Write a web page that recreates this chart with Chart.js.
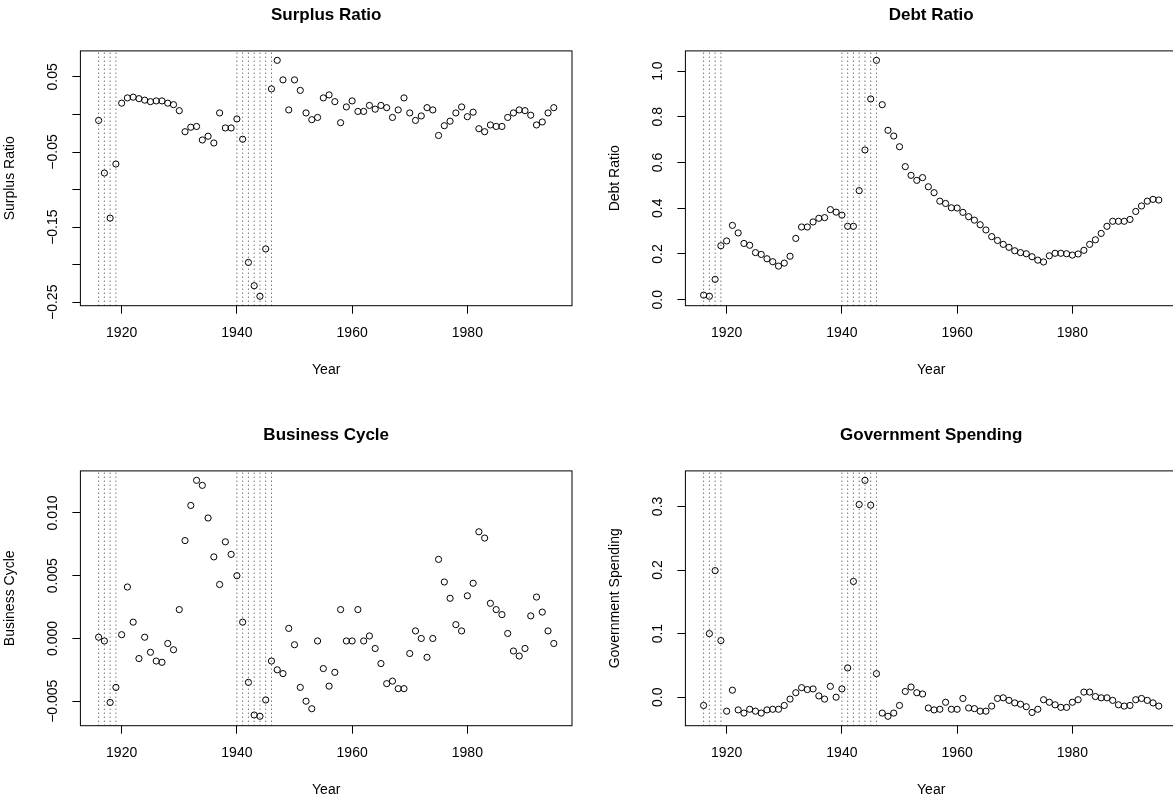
<!DOCTYPE html>
<html>
<head>
<meta charset="utf-8">
<script src="https://cdn.jsdelivr.net/npm/chart.js@4.4.1/dist/chart.umd.min.js"></script>
<style>
  html, body { margin: 0; padding: 0; background: #fff; overflow: hidden; width: 1173px; height: 801px; }
  canvas { position: absolute; }
</style>
</head>
<body>
<canvas id="surplus" width="605" height="400" style="left:0;top:0"></canvas>
<canvas id="debt" width="605" height="400" style="left:605px;top:0"></canvas>
<canvas id="cycle" width="605" height="400" style="left:0;top:420px"></canvas>
<canvas id="spending" width="605" height="400" style="left:605px;top:420px"></canvas>
<script>
// -----------------------------
// Data (1916 - 1995)
// -----------------------------
const years = Array.from({ length: 80 }, (_, i) => 1916 + i);
const warYears = [1916, 1917, 1918, 1919, 1940, 1941, 1942, 1943, 1944, 1945, 1946];
const yearTicks = [1920, 1940, 1960, 1980];

const surplus = [
  -0.008, -0.078, -0.138, -0.066, 0.015, 0.022, 0.023, 0.021, 0.019, 0.017,
  0.018, 0.018, 0.015, 0.013, 0.005, -0.023, -0.017, -0.016, -0.034, -0.029,
  -0.038, 0.002, -0.018, -0.018, -0.006, -0.033, -0.197, -0.228, -0.242, -0.179,
  0.034, 0.072, 0.046, 0.006, 0.046, 0.032, 0.002, -0.007, -0.004, 0.022,
  0.026, 0.017, -0.011, 0.010, 0.018, 0.004, 0.004, 0.012, 0.007, 0.012,
  0.009, -0.004, 0.006, 0.022, 0.002, -0.008, -0.002, 0.009, 0.006, -0.028,
  -0.015, -0.009, 0.002, 0.010, -0.003, 0.003, -0.019, -0.023, -0.014, -0.016,
  -0.016, -0.004, 0.002, 0.006, 0.005, -0.001, -0.014, -0.010, 0.002, 0.009
];
const debt = [
  0.020, 0.015, 0.089, 0.236, 0.257, 0.325, 0.292, 0.246, 0.238, 0.206,
  0.198, 0.179, 0.166, 0.147, 0.160, 0.190, 0.268, 0.318, 0.318, 0.340,
  0.356, 0.359, 0.394, 0.383, 0.370, 0.321, 0.321, 0.477, 0.655, 0.878,
  1.047, 0.853, 0.741, 0.716, 0.669, 0.582, 0.544, 0.522, 0.534, 0.494,
  0.468, 0.431, 0.421, 0.402, 0.401, 0.382, 0.363, 0.348, 0.328, 0.305,
  0.276, 0.259, 0.242, 0.229, 0.214, 0.206, 0.201, 0.188, 0.173, 0.165,
  0.192, 0.203, 0.203, 0.201, 0.195, 0.200, 0.216, 0.242, 0.262, 0.290,
  0.321, 0.343, 0.343, 0.343, 0.351, 0.386, 0.410, 0.431, 0.439, 0.436
];
const cycle = [
  0.0001, -0.0002, -0.0051, -0.0039, 0.0003, 0.0041, 0.0013, -0.0016, 0.0001, -0.0011,
  -0.0018, -0.0019, -0.0004, -0.0009, 0.0023, 0.0078, 0.0106, 0.0126, 0.0122, 0.0096,
  0.0065, 0.0043, 0.0077, 0.0067, 0.0050, 0.0013, -0.0035, -0.0061, -0.0062, -0.0049,
  -0.0018, -0.0025, -0.0028, 0.0008, -0.0005, -0.0039, -0.0050, -0.0056, -0.0002, -0.0024,
  -0.0038, -0.0027, 0.0023, -0.0002, -0.0002, 0.0023, -0.0002, 0.0002, -0.0008, -0.0020,
  -0.0036, -0.0034, -0.0040, -0.0040, -0.0012, 0.0006, 0.0000, -0.0015, 0.0000, 0.0063,
  0.0045, 0.0032, 0.0011, 0.0006, 0.0034, 0.0044, 0.0085, 0.0080, 0.0028, 0.0023,
  0.0019, 0.0004, -0.0010, -0.0014, -0.0008, 0.0018, 0.0033, 0.0021, 0.0006, -0.0004
];
const spending = [
  -0.013, 0.100, 0.199, 0.089, -0.022, 0.011, -0.020, -0.025, -0.019, -0.022,
  -0.025, -0.020, -0.019, -0.019, -0.013, -0.003, 0.007, 0.015, 0.012, 0.013,
  0.002, -0.003, 0.017, 0.000, 0.013, 0.046, 0.182, 0.303, 0.341, 0.302,
  0.037, -0.025, -0.030, -0.025, -0.013, 0.009, 0.016, 0.007, 0.005, -0.017,
  -0.020, -0.019, -0.008, -0.019, -0.019, -0.002, -0.017, -0.018, -0.022, -0.022,
  -0.014, -0.002, -0.001, -0.005, -0.009, -0.011, -0.015, -0.024, -0.019, -0.004,
  -0.008, -0.012, -0.016, -0.016, -0.008, -0.004, 0.008, 0.008, 0.001, -0.001,
  -0.001, -0.005, -0.012, -0.014, -0.013, -0.004, -0.002, -0.005, -0.009, -0.014
];

// y tick values and their printed labels (R drops some labels)
const surplusTicks = [-0.25, -0.2, -0.15, -0.1, -0.05, 0, 0.05];
const surplusLabels = ["\u22120.25", "", "\u22120.15", "", "\u22120.05", "", "0.05"];
const debtTicks = [0, 0.2, 0.4, 0.6, 0.8, 1.0];
const debtLabels = ["0.0", "0.2", "0.4", "0.6", "0.8", "1.0"];
const cycleTicks = [-0.005, 0, 0.005, 0.01];
const cycleLabels = ["\u22120.005", "0.000", "0.005", "0.010"];
const spendingTicks = [0, 0.1, 0.2, 0.3];
const spendingLabels = ["0.0", "0.1", "0.2", "0.3"];

// -----------------------------
// Shared setup
// -----------------------------
const FONT = "'Liberation Sans', Arial, Helvetica, sans-serif";
Chart.defaults.font.family = FONT;
Chart.defaults.color = "#000";

// R style box around the plot region
const boxPlugin = {
  id: "box",
  afterDraw(chart) {
    const { ctx, chartArea: a } = chart;
    ctx.save();
    ctx.strokeStyle = "#000";
    ctx.lineWidth = 1;
    ctx.strokeRect(a.left, a.top, a.right - a.left, a.bottom - a.top);
    ctx.restore();
  }
};

const measure = document.createElement("canvas").getContext("2d");
measure.font = "14px " + FONT;

function panel(id, title, yTitle, values, yTicks, yLabels) {
  // R pads the data range by 4% on each side
  const lo = Math.min(...values), hi = Math.max(...values);
  const yMin = lo - (hi - lo) * 0.04, yMax = hi + (hi - lo) * 0.04;
  const span = years[years.length - 1] - years[0];
  const xMin = years[0] - span * 0.04, xMax = years[years.length - 1] + span * 0.04;

  const widest = Math.max(...yLabels.map(s => measure.measureText(s).width));

  const datasets = [{
    data: years.map((x, i) => ({ x, y: values[i] })),
    pointStyle: "circle",
    pointRadius: 3.1,
    pointHoverRadius: 3.1,
    borderWidth: 1,
    borderColor: "#000",
    backgroundColor: "rgba(0,0,0,0)"
  }];
  warYears.forEach(yr => datasets.push({
    type: "line",
    data: [{ x: yr, y: yMin }, { x: yr, y: yMax }],
    borderColor: "#333",
    borderWidth: 1,
    borderDash: [1, 3],
    pointRadius: 0
  }));

  new Chart(document.getElementById(id), {
    type: "scatter",
    data: { datasets },
    options: {
      responsive: false,
      animation: false,
      devicePixelRatio: 1,
      events: [],
      layout: { padding: { left: 0, right: 33, top: 0, bottom: 0 } },
      plugins: {
        legend: { display: false },
        tooltip: { enabled: false },
        title: {
          display: true, text: title, fullSize: false, color: "#000",
          font: { size: 17, weight: "bold" },
          padding: { top: 5, bottom: 25.5 }
        }
      },
      scales: {
        x: {
          type: "linear", position: "bottom", min: xMin, max: xMax,
          afterBuildTicks: s => { s.ticks = yearTicks.map(v => ({ value: v })); },
          afterFit: s => { s.height = 94.3; s.paddingLeft = 0; s.paddingRight = 0; },
          ticks: { callback: v => String(v), font: { size: 14 }, padding: 11, autoSkip: false, maxRotation: 0 },
          grid: { drawOnChartArea: false, tickLength: 8, color: "#000" },
          border: { display: false },
          title: { display: true, text: "Year", font: { size: 14 }, padding: { top: 0, bottom: 21.5 } }
        },
        y: {
          type: "linear", position: "left", min: yMin, max: yMax,
          afterBuildTicks: s => { s.ticks = yTicks.map(v => ({ value: v })); },
          afterFit: s => { s.width = 80.4; s.paddingTop = 0; s.paddingBottom = 0; },
          ticks: {
            callback: (v, i) => yLabels[i],
            minRotation: 90, maxRotation: 90, crossAlign: "center",
            padding: 19 - widest / 2, font: { size: 14 }, autoSkip: false
          },
          grid: { drawOnChartArea: false, tickLength: 8, color: "#000" },
          border: { display: false },
          title: { display: true, text: yTitle, font: { size: 14 }, padding: { top: 1.8, bottom: 0 } }
        }
      }
    },
    plugins: [boxPlugin]
  });
}

panel("surplus", "Surplus Ratio", "Surplus Ratio", surplus, surplusTicks, surplusLabels);
panel("debt", "Debt Ratio", "Debt Ratio", debt, debtTicks, debtLabels);
panel("cycle", "Business Cycle", "Business Cycle", cycle, cycleTicks, cycleLabels);
panel("spending", "Government Spending", "Government Spending", spending, spendingTicks, spendingLabels);
</script>
</body>
</html>
